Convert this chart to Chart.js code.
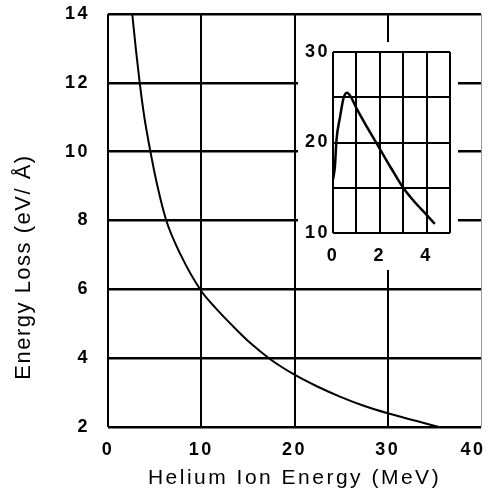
<!DOCTYPE html>
<html>
<head>
<meta charset="utf-8">
<script src="https://cdn.jsdelivr.net/npm/chart.js@4/dist/chart.umd.min.js"></script>
<style>
  html, body { margin: 0; padding: 0; background: #fff; }
  #wrap { position: relative; width: 488px; height: 499px; }
  #main { position: absolute; left: 0; top: 0; }
  #inset { position: absolute; left: 298px; top: 42px; background: #fff; }
</style>
</head>
<body>
<div id="wrap">
  <canvas id="main" width="488" height="499"></canvas>
  <canvas id="inset" width="160" height="228"></canvas>
</div>
<script>
// Helium ion energy loss over the full energy range (MeV, eV/Å)
const energyMeV  = [2.6, 3.0, 3.4, 3.9, 4.55, 5.3, 6.25, 7.8, 10, 11.5, 13.4, 15.3, 17.4, 20, 22.5, 25, 27.5, 30, 33, 35.5];
const energyLoss = [14, 12.95, 12, 11, 10, 9, 8, 7, 5.95, 5.47, 4.93, 4.43, 3.97, 3.52, 3.17, 2.87, 2.61, 2.4, 2.18, 2.0];

// Low-energy region with the Bragg peak (inset)
const lowEnergyMeV  = [0, 0.08, 0.15, 0.3, 0.45, 0.6, 0.75, 1.0, 1.5, 2.0, 2.5, 3.0, 3.5, 4.0, 4.35];
const lowEnergyLoss = [15.9, 17.3, 20.3, 22.8, 24.9, 25.5, 25.1, 23.8, 21.5, 19.3, 17.1, 15.0, 13.4, 12.0, 11.0];

// Axis ticks
const mainXTicks   = [0, 10, 20, 30, 40];
const mainYTicks   = [2, 4, 6, 8, 10, 12, 14];
const insetXGrid   = [0, 1, 2, 3, 4, 5];
const insetXLabels = [0, 2, 4];
const insetYGrid   = [10, 15, 20, 25, 30];
const insetYLabels = [10, 20, 30];

const xTitle = 'Helium Ion Energy (MeV)';
const yTitle = 'Energy Loss (eV/ Å)';

const FAMILY = "'Liberation Sans', Arial, Helvetica, sans-serif";
const TICK_FONT = { family: FAMILY, size: 18, weight: 'bold' };

const toPoints = (xs, ys) => xs.map((x, i) => ({ x, y: ys[i] }));

// wide letter spacing for all canvas text
const spacingPlugin = {
  id: 'spacing',
  beforeDraw(chart, args, opts) { chart.ctx.letterSpacing = opts.value || '0px'; }
};

// shift the last x label inward so it stays on the canvas
const lastLabelPlugin = {
  id: 'lastLabel',
  beforeDraw(chart, args, opts) {
    if (!opts.shift) return;
    const items = chart.scales.x.getLabelItems();
    const last = items[items.length - 1];
    if (last) last.options.translation[0] += opts.shift;
  }
};

// rotated y-axis title
const yTitlePlugin = {
  id: 'yTitle',
  afterDraw(chart, args, opts) {
    if (!opts.text) return;
    const ctx = chart.ctx;
    ctx.save();
    ctx.letterSpacing = opts.spacing;
    ctx.font = opts.font;
    ctx.fillStyle = '#000';
    ctx.textAlign = 'center';
    ctx.textBaseline = 'alphabetic';
    ctx.translate(opts.x, opts.y);
    ctx.rotate(-Math.PI / 2);
    ctx.fillText(opts.text, 0, 0);
    ctx.restore();
  }
};

function fixTicks(values) {
  return s => { s.ticks = values.map(v => ({ value: v })); };
}

new Chart(document.getElementById('main'), {
  type: 'line',
  data: {
    datasets: [{
      data: toPoints(energyMeV, energyLoss),
      borderColor: '#000',
      borderWidth: 2,
      pointRadius: 0,
      fill: false,
      cubicInterpolationMode: 'monotone'
    }]
  },
  plugins: [spacingPlugin, lastLabelPlugin, yTitlePlugin],
  options: {
    responsive: false,
    animation: false,
    devicePixelRatio: 1,
    layout: { padding: { top: 14, right: 7, left: 0, bottom: 0 } },
    plugins: {
      legend: { display: false },
      tooltip: { enabled: false },
      spacing: { value: '2.5px' },
      lastLabel: { shift: -8 },
      yTitle: { text: yTitle, font: '22px ' + FAMILY, spacing: '1.5px', x: 30, y: 267 }
    },
    scales: {
      x: {
        type: 'linear',
        min: mainXTicks[0],
        max: mainXTicks[mainXTicks.length - 1],
        afterBuildTicks: fixTicks(mainXTicks),
        afterFit(s) { s.height = 72; s.paddingLeft = 0; s.paddingRight = 0; },
        border: { display: false },
        grid: {
          drawTicks: false,
          color: c => (c.tick && c.tick.value === 40) ? '#9a9a9a' : '#000',
          lineWidth: c => (c.tick && c.tick.value === 40) ? 1 : 2
        },
        ticks: {
          color: '#000',
          padding: 12,
          maxRotation: 0,
          font: TICK_FONT
        },
        title: {
          display: true,
          text: xTitle,
          color: '#000',
          font: { family: FAMILY, size: 21 },
          padding: { top: 0, bottom: 8 }
        }
      },
      y: {
        type: 'linear',
        min: mainYTicks[0],
        max: mainYTicks[mainYTicks.length - 1],
        afterBuildTicks: fixTicks(mainYTicks),
        afterFit(s) { s.width = 108; s.paddingTop = 0; s.paddingBottom = 0; },
        border: { display: false },
        grid: { drawTicks: false, color: '#000', lineWidth: 2.5 },
        ticks: {
          color: '#000',
          padding: 18,
          font: TICK_FONT
        }
      }
    }
  }
});

new Chart(document.getElementById('inset'), {
  type: 'line',
  data: {
    datasets: [{
      data: toPoints(lowEnergyMeV, lowEnergyLoss),
      borderColor: '#000',
      borderWidth: 2.5,
      pointRadius: 0,
      fill: false,
      cubicInterpolationMode: 'monotone'
    }]
  },
  plugins: [spacingPlugin],
  options: {
    responsive: false,
    animation: false,
    devicePixelRatio: 1,
    layout: { padding: { top: 10, right: 8, left: 0, bottom: 0 } },
    plugins: {
      legend: { display: false },
      tooltip: { enabled: false },
      spacing: { value: '2.5px' }
    },
    scales: {
      x: {
        type: 'linear',
        min: insetXGrid[0],
        max: insetXGrid[insetXGrid.length - 1],
        afterBuildTicks: fixTicks(insetXGrid),
        afterFit(s) { s.height = 37; s.paddingLeft = 0; s.paddingRight = 0; },
        border: { display: false },
        grid: { drawTicks: false, color: '#000', lineWidth: 2 },
        ticks: {
          color: '#000',
          padding: 12,
          maxRotation: 0,
          autoSkip: false,
          font: TICK_FONT,
          callback: v => insetXLabels.includes(v) ? String(v) : ''
        }
      },
      y: {
        type: 'linear',
        min: insetYGrid[0],
        max: insetYGrid[insetYGrid.length - 1],
        afterBuildTicks: fixTicks(insetYGrid),
        afterFit(s) { s.width = 35; s.paddingTop = 0; s.paddingBottom = 0; },
        border: { display: false },
        grid: { drawTicks: false, color: '#000', lineWidth: 2 },
        ticks: {
          color: '#000',
          padding: 3,
          autoSkip: false,
          font: TICK_FONT,
          callback: v => insetYLabels.includes(v) ? String(v) : ''
        }
      }
    }
  }
});
</script>
</body>
</html>
